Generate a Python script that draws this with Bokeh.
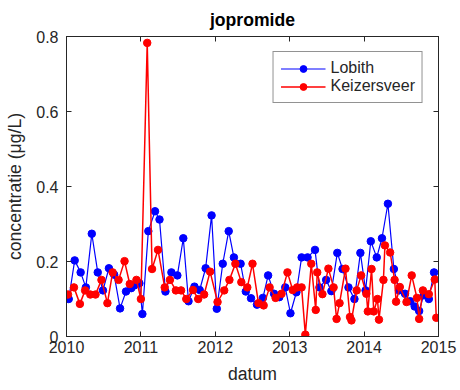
from bokeh.plotting import figure
from bokeh.models import Range1d, FixedTicker, LinearAxis, Legend, LegendItem
from bokeh.embed import file_html
from bokeh.resources import INLINE

# ---- data (decimal year, concentration µg/L) ----
lobith_t = [2010.03, 2010.11, 2010.19, 2010.26, 2010.34, 2010.42, 2010.49, 2010.57, 2010.64,
            2010.72, 2010.80, 2010.87, 2010.91, 2010.98, 2011.02, 2011.10, 2011.19, 2011.25,
            2011.33, 2011.41, 2011.49, 2011.57, 2011.64, 2011.72, 2011.79, 2011.87, 2011.95,
            2012.02, 2012.10, 2012.18, 2012.25, 2012.34, 2012.41, 2012.48, 2012.56, 2012.64,
            2012.71, 2012.79, 2012.86, 2012.94, 2013.01, 2013.09, 2013.16, 2013.24, 2013.34,
            2013.40, 2013.49, 2013.56, 2013.64, 2013.71, 2013.79, 2013.87, 2013.95, 2014.02,
            2014.09, 2014.17, 2014.24, 2014.32, 2014.40, 2014.47, 2014.55, 2014.62, 2014.68,
            2014.74, 2014.80, 2014.87, 2014.94]
lobith_v = [0.100, 0.203, 0.171, 0.131, 0.274, 0.171, 0.123, 0.182, 0.165,
            0.075, 0.120, 0.129, 0.136, 0.142, 0.060, 0.281, 0.334, 0.312,
            0.120, 0.171, 0.163, 0.262, 0.094, 0.133, 0.124, 0.182, 0.323,
            0.074, 0.194, 0.281, 0.211, 0.194, 0.120, 0.102, 0.085, 0.103,
            0.163, 0.114, 0.105, 0.131, 0.062, 0.118, 0.211, 0.211, 0.231,
            0.131, 0.151, 0.121, 0.223, 0.180, 0.131, 0.100, 0.223, 0.123,
            0.254, 0.211, 0.262, 0.354, 0.180, 0.123, 0.114, 0.094, 0.080,
            0.068, 0.110, 0.100, 0.171]

keizer_t = [2010.02, 2010.10, 2010.18, 2010.25, 2010.32, 2010.39, 2010.47, 2010.55, 2010.62,
            2010.70, 2010.78, 2010.85, 2010.94, 2011.00, 2011.085, 2011.15, 2011.23, 2011.32,
            2011.39, 2011.47, 2011.54, 2011.61, 2011.70, 2011.77, 2011.85, 2011.93, 2012.03,
            2012.12, 2012.19, 2012.27, 2012.35, 2012.43, 2012.50, 2012.58, 2012.65, 2012.73,
            2012.81, 2012.89, 2012.97, 2013.04, 2013.10, 2013.16, 2013.21, 2013.29, 2013.35,
            2013.37, 2013.44, 2013.52, 2013.59, 2013.63, 2013.67, 2013.75, 2013.81, 2013.83,
            2013.90, 2013.96, 2014.03, 2014.05, 2014.10, 2014.13, 2014.18, 2014.20, 2014.26,
            2014.28, 2014.35, 2014.41, 2014.43, 2014.48, 2014.57, 2014.64, 2014.71, 2014.74,
            2014.79, 2014.87, 2014.95, 2014.97]
keizer_v = [0.112, 0.131, 0.087, 0.123, 0.112, 0.112, 0.151, 0.089, 0.171,
            0.151, 0.201, 0.140, 0.151, 0.100, 0.783, 0.180, 0.231, 0.131,
            0.151, 0.123, 0.123, 0.100, 0.124, 0.100, 0.112, 0.173, 0.092,
            0.123, 0.151, 0.194, 0.145, 0.131, 0.194, 0.089, 0.083, 0.131,
            0.103, 0.114, 0.171, 0.124, 0.131, 0.131, 0.005, 0.194, 0.071,
            0.171, 0.113, 0.181, 0.131, 0.047, 0.089, 0.181, 0.052, 0.043,
            0.123, 0.163, 0.114, 0.067, 0.180, 0.067, 0.100, 0.045, 0.151,
            0.243, 0.224, 0.151, 0.093, 0.132, 0.092, 0.163, 0.103, 0.047,
            0.123, 0.113, 0.152, 0.050]

x_ticks = [2010, 2011, 2012, 2013, 2014, 2015]
y_ticks = [0, 0.2, 0.4, 0.6, 0.8]
x_labels = {2010: "2010", 2011: "2011", 2012: "2012", 2013: "2013", 2014: "2014", 2015: "2015"}
y_labels = {0: "0", 0.2: "0.2", 0.4: "0.4", 0.6: "0.6", 0.8: "0.8"}

FONT = "Liberation Sans"
AX = "#262626"

p = figure(width=460, height=390, output_backend="svg", toolbar_location=None,
           x_range=Range1d(2010, 2015), y_range=Range1d(0, 0.8),
           title="jopromide", min_border_left=66, min_border_right=22,
           min_border_top=36, min_border_bottom=54)
p.title.align = "center"
p.title.text_font = FONT
p.title.text_font_size = "17.6px"
p.title.text_font_style = "bold"
p.title.text_color = "black"
p.title.offset = 0
p.title.standoff = 14

p.grid.visible = False
p.outline_line_color = AX
p.outline_line_width = 1
p.background_fill_color = "white"
p.border_fill_color = "white"

for ax in (p.xaxis[0], p.yaxis[0]):
    ax.major_tick_in = 5
    ax.major_tick_out = 0
    ax.minor_tick_line_color = None
    ax.axis_line_color = AX
    ax.major_tick_line_color = AX
    ax.major_label_text_font = FONT
    ax.major_label_text_font_size = "16px"
    ax.major_label_text_color = AX
    ax.axis_label_text_font = FONT
    ax.axis_label_text_font_size = "17.6px"
    ax.axis_label_text_font_style = "normal"
    ax.axis_label_text_color = AX

p.xaxis[0].ticker = FixedTicker(ticks=x_ticks)
p.xaxis[0].major_label_overrides = x_labels
p.xaxis[0].axis_label = "datum"
p.xaxis[0].major_label_standoff = 4
p.xaxis[0].axis_label_standoff = 8
p.yaxis[0].ticker = FixedTicker(ticks=y_ticks)
p.yaxis[0].major_label_overrides = y_labels
p.yaxis[0].axis_label = "concentratie (μg/L)"
p.yaxis[0].major_label_standoff = 8
p.yaxis[0].axis_label_standoff = 8

# mirrored tick marks on top and right (MATLAB box style), no labels
top = LinearAxis(ticker=FixedTicker(ticks=x_ticks), major_tick_in=5, major_tick_out=0,
                 minor_tick_line_color=None,
                 major_label_overrides={t: "" for t in x_ticks},
                 axis_line_color=AX, major_tick_line_color=AX, major_label_standoff=0)
right = LinearAxis(ticker=FixedTicker(ticks=y_ticks), major_tick_in=5, major_tick_out=0,
                   minor_tick_line_color=None,
                   major_label_overrides={t: "" for t in y_ticks},
                   axis_line_color=AX, major_tick_line_color=AX, major_label_standoff=0)
p.add_layout(top, "above")
p.add_layout(right, "right")

BLUE = "#0000ff"
RED = "#ff0000"
l1 = p.line(lobith_t, lobith_v, line_color=BLUE, line_width=1.2)
s1 = p.scatter(lobith_t, lobith_v, size=7.5, fill_color=BLUE, line_color=BLUE)
l2 = p.line(keizer_t, keizer_v, line_color=RED, line_width=1.5)
s2 = p.scatter(keizer_t, keizer_v, size=7.5, fill_color=RED, line_color=RED)

legend = Legend(items=[LegendItem(label="Lobith", renderers=[l1, s1]),
                       LegendItem(label="Keizersveer", renderers=[l2, s2])],
                location="top_right")
legend.margin = 15
legend.padding = 7
legend.spacing = 0
legend.glyph_width = 45
legend.glyph_height = 17
legend.label_standoff = 5
legend.label_text_font = FONT
legend.label_text_font_size = "16px"
legend.label_text_color = AX
legend.border_line_color = AX
legend.border_line_width = 1
legend.background_fill_color = "white"
legend.background_fill_alpha = 1
p.add_layout(legend, "center")

open("out.html", "w").write(file_html(p, INLINE))
